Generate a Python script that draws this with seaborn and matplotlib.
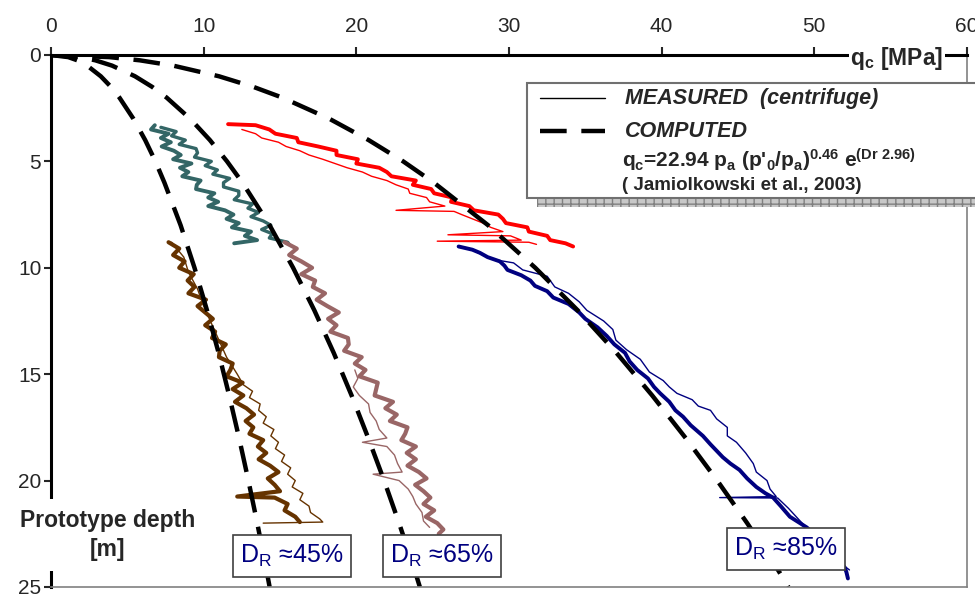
import numpy as np
import pandas as pd
import matplotlib.pyplot as plt
import matplotlib.patches as mpatches
import seaborn as sns

# computed curves (dashed) - qc [MPa] vs depth [m]
calc_depth = [0, 0.1, 0.25, 0.5, 1, 1.5, 2, 3, 4, 5, 6, 8, 10, 12, 14, 16, 18, 20, 22, 24, 25]
calc_45 = [0, 1.13, 1.72, 2.37, 3.26, 3.93, 4.48, 5.40, 6.17, 6.84, 7.43, 8.49, 9.40, 10.22,
           10.98, 11.67, 12.32, 12.93, 13.51, 14.06, 14.32]
calc_65 = [0, 1.91, 2.90, 4.00, 5.50, 6.63, 7.57, 9.12, 10.41, 11.53, 12.54, 14.32, 15.86, 17.25,
           18.52, 19.69, 20.78, 21.82, 22.80, 23.73, 24.16]
calc_85 = [0, 3.82, 5.81, 8.00, 11.0, 13.26, 15.14, 18.24, 20.81, 23.07, 25.08, 28.63, 31.72, 34.50,
           37.04, 39.38, 41.57, 43.64, 45.60, 47.45, 48.30]

# measured (centrifuge) - Dr 65%, shallow part
teal_a_z = [3.3, 3.5, 3.7, 3.9, 4.1, 4.3, 4.5, 4.7, 4.9, 5.1, 5.3, 5.5, 5.7, 5.9, 6.1, 6.3, 6.5,
            6.7, 6.9, 7.1, 7.3, 7.5, 7.7, 7.9, 8.1, 8.3, 8.5, 8.7, 8.85]
teal_a_q = [6.8, 6.55, 7.7, 7.2, 7.85, 7.25, 8.05, 8.5, 8.0, 9.2, 8.45, 9.0, 8.6, 9.8, 9.55, 9.5,
            10.7, 10.3, 10.95, 10.3, 11.4, 11.95, 11.5, 12.3, 11.85, 13.1, 12.7, 13.5, 12.0]
teal_b_z = [3.4, 3.6, 3.8, 4.0, 4.2, 4.4, 4.6, 4.8, 5.0, 5.2, 5.4, 5.6, 5.8, 6.0, 6.2, 6.4, 6.6,
            6.8, 7.0, 7.2, 7.4, 7.6, 7.8, 8.0, 8.2, 8.4, 8.6, 8.8, 8.9]
teal_b_q = [7.2, 8.2, 7.9, 8.8, 8.4, 9.5, 9.6, 9.4, 10.5, 10.1, 10.9, 10.6, 11.7, 11.3, 11.3, 12.3,
            12.3, 12.0, 13.2, 12.9, 13.6, 13.1, 13.9, 14.4, 13.8, 14.5, 14.3, 15.5, 15.6]

# measured - Dr 85%, shallow part
red_a_z = [3.25, 3.3, 3.5, 3.7, 3.9, 4.1, 4.3, 4.5, 4.7, 4.9, 5.1, 5.3, 5.5, 5.7, 5.9, 6.1, 6.3,
           6.5, 6.7, 6.9, 7.1, 7.3, 7.5, 7.7, 7.9, 8.1, 8.3, 8.5, 8.7, 8.85, 9.0]
red_a_q = [11.6, 13.4, 14.3, 14.7, 16.1, 16.2, 17.5, 18.7, 18.7, 20.1, 20.0, 21.5, 22.0, 22.3, 23.9,
           23.7, 24.9, 25.1, 26.3, 26.2, 27.4, 27.7, 29.3, 29.6, 29.8, 31.2, 31.3, 32.5, 32.7, 33.7, 34.2]
red_b_z = [3.5, 3.7, 3.9, 4.1, 4.3, 4.5, 4.7, 4.9, 5.1, 5.3, 5.5, 5.7, 5.9, 6.1, 6.3, 6.5, 6.7,
           6.9, 7.1, 7.3, 7.35, 7.5, 7.7, 7.9, 8.1, 8.3, 8.45, 8.5, 8.7, 8.75, 8.8, 8.9]
red_b_q = [12.5, 13.4, 13.8, 14.9, 15.4, 16.3, 16.9, 17.8, 18.6, 19.4, 20.4, 21.0, 22.0, 22.6, 23.4,
           23.5, 24.6, 24.8, 25.8, 22.6, 26.4, 26.9, 27.6, 28.3, 28.8, 29.6, 26.0, 30.1, 30.8, 25.3,
           31.3, 31.8]

# measured - Dr 85%, deep part
navy_a_z = [9.0, 9.15, 9.3, 9.5, 9.7, 9.9, 10.1, 10.35, 10.6, 10.85, 11.1, 11.4, 11.7, 12.1, 12.4,
            12.8, 13.2, 13.6, 14.0, 14.4, 14.8, 15.2, 15.6, 15.9, 16.3, 16.7, 17.0, 17.4, 17.9,
            18.3, 18.9, 19.2, 19.5, 19.9, 20.3, 20.6, 20.8, 21.2, 21.7, 22.2, 22.7,
            23.2, 23.7, 24.1, 24.3, 24.6]
navy_a_q = [26.7, 27.6, 28.1, 28.6, 29.4, 29.7, 29.9, 30.8, 31.4, 31.7, 32.5, 32.9, 33.9, 34.6, 35.0,
            35.8, 36.4, 36.9, 37.6, 37.9, 38.4, 39.1, 39.5, 39.9, 40.5, 40.9, 41.4, 41.9, 42.7,
            43.2, 44.0, 44.5, 45.1, 45.6, 46.2, 46.8, 47.3, 47.8, 48.4, 49.5, 50.3,
            51.0, 51.6, 52.0, 52.1, 52.2]
navy_b_z = [9.06, 9.3, 9.6, 9.77, 10.1, 10.4, 10.9, 11.2, 11.6, 12.0, 12.5, 12.9, 13.4, 13.85,
            14.3, 14.9, 15.3, 15.6, 15.9, 16.2, 16.5, 16.7, 17.1, 17.5, 17.9, 18.2, 18.7, 19.2,
            19.6, 20.0, 20.4, 20.75, 20.8, 20.82, 21.3, 22.0, 22.6, 23.2, 23.7, 24.2]
navy_b_q = [27.3, 28.0, 28.9, 30.3, 30.9, 32.5, 33.0, 33.9, 34.6, 35.1, 36.2, 36.8, 37.0, 37.7,
            38.6, 39.2, 40.1, 40.5, 41.0, 42.0, 42.4, 43.2, 43.6, 44.3, 44.3, 44.9, 45.5, 46.0,
            46.2, 46.9, 47.1, 47.5, 43.8, 47.6, 48.3, 49.2, 50.0, 50.7, 51.4, 52.3]

# measured - Dr 45%, deep part
brown_a_z = [8.8, 9.1, 9.4, 9.7, 10.0, 10.3, 10.6, 10.9, 11.2, 11.5, 11.8, 12.1, 12.4, 12.7, 13.0,
             13.3, 13.6, 13.9, 14.2, 14.5, 14.8, 15.1, 15.4, 15.7, 16.0, 16.3, 16.6, 16.9, 17.2,
             17.5, 17.8, 18.1, 18.4, 18.7, 19.0, 19.3, 19.6, 19.9, 20.2, 20.5, 20.75, 20.8, 21.1,
             21.4, 21.7, 21.95]
brown_a_q = [7.7, 8.4, 8.0, 8.75, 8.4, 9.35, 8.95, 9.4, 9.0, 10.15, 9.6, 10.1, 10.6, 10.1, 10.75,
             10.55, 11.45, 11.05, 11.0, 11.9, 11.75, 11.5, 12.55, 11.9, 12.6, 12.05, 12.8, 13.3, 12.75,
             13.25, 13.0, 13.9, 13.55, 14.1, 13.6, 14.35, 14.9, 14.2, 14.65, 15.0, 12.2, 14.65, 15.5,
             15.3, 16.0, 16.3]
brown_b_z = [8.8, 9.5, 10.2, 11.0, 11.8, 12.6, 13.4, 14.2, 15.0, 15.5, 15.8, 16.1, 16.4, 16.7,
             17.0, 17.3, 17.6, 17.9, 18.2, 18.5, 18.8, 19.1, 19.4, 19.7, 20.0, 20.3, 20.6, 20.9,
             21.2, 21.5, 21.8, 21.95, 22.0]
brown_b_q = [7.9, 8.7, 9.0, 9.6, 10.0, 10.5, 11.0, 11.5, 12.2, 12.6, 13.2, 13.0, 13.7, 13.6,
             14.1, 13.9, 14.6, 14.4, 14.9, 14.7, 15.3, 15.1, 15.7, 15.5, 16.0, 15.8, 16.5, 16.3,
             16.9, 17.0, 17.6, 17.8, 13.9]

# measured - Dr 65%, deep part
rosy_a_z = [8.8, 9.1, 9.4, 9.7, 10.0, 10.3, 10.6, 10.9, 11.2, 11.5, 11.8, 12.1, 12.4, 12.7, 13.0,
            13.3, 13.6, 13.9, 14.2, 14.5, 14.8, 15.1, 15.4, 15.7, 16.0, 16.3, 16.6, 16.9, 17.2,
            17.5, 17.8, 18.1, 18.4, 18.7, 19.0, 19.3, 19.6, 19.9, 20.2, 20.5, 20.8, 21.1, 21.4,
            21.7, 22.0, 22.3, 22.5]
rosy_a_q = [15.3, 16.1, 15.6, 16.4, 17.1, 16.4, 17.3, 17.15, 17.95, 17.4, 18.1, 18.85, 18.15, 18.7,
            18.3, 19.45, 19.5, 19.2, 20.35, 19.9, 20.6, 20.2, 21.4, 21.3, 21.2, 22.4, 21.9, 22.65,
            22.2, 23.35, 23.2, 22.95, 23.9, 23.3, 23.9, 23.35, 24.1, 24.6, 23.85, 24.4, 24.85, 24.4,
            25.1, 24.55, 25.3, 25.7, 25.4]
rosy_b_z = [14.8, 15.2, 15.6, 16.0, 16.4, 16.8, 17.2, 17.6, 18.0, 18.2, 18.4, 18.8, 19.2, 19.6,
            19.7, 20.0, 20.4, 20.75, 21.1, 21.5, 21.9, 22.2]
rosy_b_q = [19.9, 20.1, 19.8, 20.2, 20.8, 20.9, 21.3, 21.5, 22.0, 20.4, 22.0, 22.5, 22.7, 23.0,
            21.1, 22.8, 23.4, 23.7, 23.9, 24.3, 24.4, 24.8]

teal = "#336666"
red = "#ff0000"
navy = "#000080"
brown = "#663300"
rosy = "#996666"

sns.set_style("white")
plt.rcParams["font.family"] = ["Liberation Sans", "DejaVu Sans"]
plt.rcParams["mathtext.fontset"] = "custom"
plt.rcParams["mathtext.rm"] = "Liberation Sans"
plt.rcParams["mathtext.bf"] = "Liberation Sans:bold"
plt.rcParams["mathtext.it"] = "Liberation Sans:italic"

fig = plt.figure(figsize=(9.75, 5.97), dpi=100)
ax = fig.add_axes([0.0523, 0.0168, 0.9395, 0.8911])

measured = [
    (teal_a_q, teal_a_z, teal, 2.8), (teal_b_q, teal_b_z, teal, 2.4),
    (red_a_q, red_a_z, red, 2.8), (red_b_q, red_b_z, red, 1.0),
    (navy_a_q, navy_a_z, navy, 2.8), (navy_b_q, navy_b_z, navy, 1.0),
    (brown_a_q, brown_a_z, brown, 3.0), (brown_b_q, brown_b_z, brown, 1.0),
    (rosy_a_q, rosy_a_z, rosy, 3.0), (rosy_b_q, rosy_b_z, rosy, 1.0),
]
for q, z, c, w in measured:
    df = pd.DataFrame({"qc": q, "z": z})
    sns.lineplot(data=df, x="qc", y="z", sort=False, estimator=None, color=c, lw=w, ax=ax)

for qc in [calc_45, calc_65, calc_85]:
    df = pd.DataFrame({"qc": qc, "z": calc_depth})
    sns.lineplot(data=df, x="qc", y="z", sort=False, estimator=None, color="black", lw=3.2,
                 linestyle=(0, (6, 3.3)), ax=ax)

ax.set_xlim(0, 60)
ax.set_ylim(25, 0)
ax.set_xlabel("")
ax.set_ylabel("")
ax.xaxis.tick_top()
ax.set_xticks([0, 10, 20, 30, 40, 50, 60])
ax.set_yticks([0, 5, 10, 15, 20, 25])
ax.tick_params(axis="x", top=True, bottom=False, direction="out", length=6, width=1.5,
               pad=8, labelsize=15)
ax.tick_params(axis="y", left=True, direction="out", length=5, width=1.5, pad=2, labelsize=15)
for lab in ax.get_xticklabels():
    lab.set_fontfamily(["Liberation Sans Narrow", "Liberation Sans"])
for side in ["top", "left"]:
    ax.spines[side].set_linewidth(2.2)
    ax.spines[side].set_color("black")
for side in ["right", "bottom"]:
    ax.spines[side].set_linewidth(1.2)
    ax.spines[side].set_color("#808080")

# axis titles with white background over the axis lines
ax.text(0.9236, 0.994, r"q$_\mathbf{c}$ [MPa]", transform=ax.transAxes, ha="center", va="center",
        fontsize=16.5, fontweight="bold", bbox=dict(facecolor="white", edgecolor="none", pad=1))
ax.text(0.0622, 0.098, "Prototype depth\n[m]", transform=ax.transAxes, ha="center", va="center",
        fontsize=16.5, fontweight="bold", linespacing=1.3, clip_on=False,
        bbox=dict(facecolor="white", edgecolor="none", boxstyle="square,pad=0.45"))

# legend box
ax.add_patch(mpatches.Rectangle((0.5306, 0.7143), 0.5, 0.0169, transform=ax.transAxes,
                                facecolor="#c8c8c8", edgecolor="#808080", hatch="++", lw=0,
                                clip_on=False, zorder=4))
ax.add_patch(mpatches.Rectangle((0.5197, 0.7312), 0.5, 0.2162, transform=ax.transAxes,
                                facecolor="white", edgecolor="#707070", lw=1.5,
                                clip_on=False, zorder=5))
ax.plot([0.534, 0.605], [0.919, 0.919], transform=ax.transAxes, color="black", lw=1,
        clip_on=False, zorder=6)
ax.plot([0.534, 0.605], [0.857, 0.857], transform=ax.transAxes, color="black", lw=3.2,
        linestyle=(0, (6, 3.3)), clip_on=False, zorder=6)
ax.text(0.6266, 0.919, "MEASURED  (centrifuge)", transform=ax.transAxes, va="center",
        fontsize=15.5, fontweight="bold", fontstyle="italic", zorder=6)
ax.text(0.6266, 0.857, "COMPUTED", transform=ax.transAxes, va="center",
        fontsize=15.5, fontweight="bold", fontstyle="italic", zorder=6)
ax.text(0.6234, 0.801,
        r"q$_\mathbf{c}$=22.94 p$_\mathbf{a}$ (p'$_\mathbf{0}$/p$_\mathbf{a}$)$^\mathbf{0.46}$ e$^\mathbf{(Dr\ 2.96)}$",
        transform=ax.transAxes, va="center", fontsize=15, fontweight="bold", zorder=6)
ax.text(0.6234, 0.754, "( Jamiolkowski et al., 2003)", transform=ax.transAxes, va="center",
        fontsize=13.5, fontweight="bold", zorder=6)

# relative density labels
box = dict(facecolor="white", edgecolor="#404040", lw=1.2, boxstyle="square,pad=0.3")
for fx, fy, dr in [(0.2631, 0.0583, "45%"), (0.4269, 0.0583, "65%"), (0.8024, 0.0714, "85%")]:
    ax.text(fx, fy, r"D$_\mathrm{R}$ ≈" + dr, transform=ax.transAxes, ha="center", va="center",
            fontsize=18, color=navy, bbox=box, zorder=6)

fig.savefig("out.png", dpi=100)
